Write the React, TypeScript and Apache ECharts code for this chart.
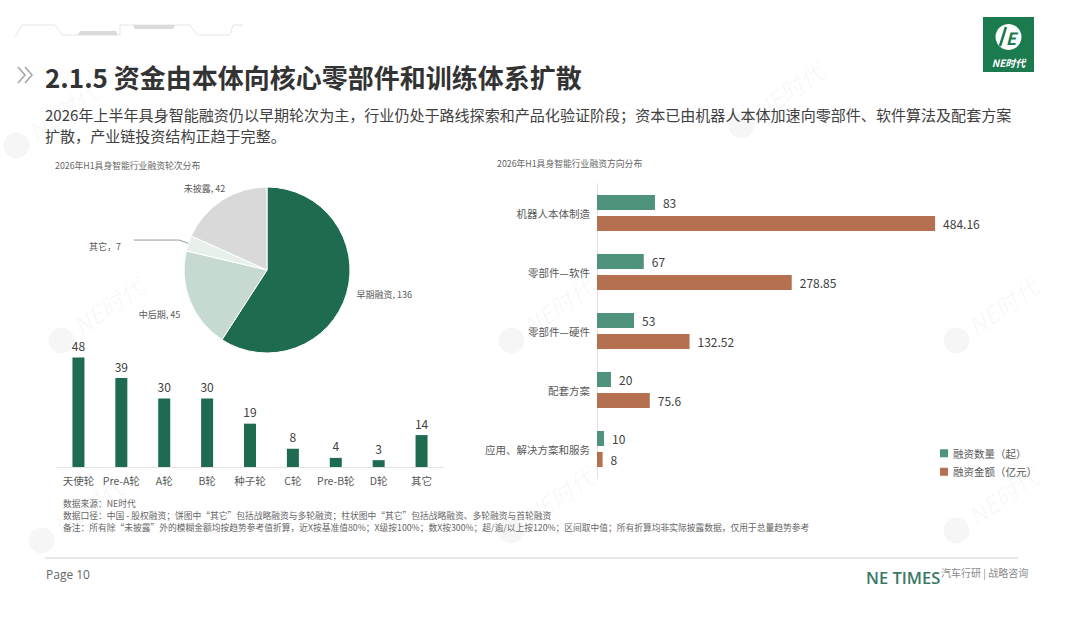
import React, { useEffect, useRef } from "react";
import * as echarts from "echarts";

const FONT = '"Noto Sans CJK SC", "Noto Sans", sans-serif';

const roundCats = ["天使轮", "Pre-A轮", "A轮", "B轮", "种子轮", "C轮", "Pre-B轮", "D轮", "其它"];
const roundCounts = [48, 39, 30, 30, 19, 8, 4, 3, 14];

const stageNames = ["早期融资", "中后期", "其它", "未披露"];
const stageValues = [136, 45, 7, 42];
const stageColors = ["#1e6b4f", "#c6dad1", "#e7f0eb", "#d9d9d9"];

const dirCats = ["机器人本体制造", "零部件—软件", "零部件—硬件", "配套方案", "应用、解决方案和服务"];
const dirCounts = [83, 67, 53, 20, 10];
const dirAmounts = [484.16, 278.85, 132.52, 75.6, 8];
const dirSeriesNames = ["融资数量（起）", "融资金额（亿元）"];

const titleText = "2.1.5 资金由本体向核心零部件和训练体系扩散";
const subLine1 =
  "2026年上半年具身智能融资仍以早期轮次为主，行业仍处于路线探索和产品化验证阶段；资本已由机器人本体加速向零部件、软件算法及配套方案";
const subLine2 = "扩散，产业链投资结构正趋于完整。";
const leftChartTitle = "2026年H1具身智能行业融资轮次分布";
const rightChartTitle = "2026年H1具身智能行业融资方向分布";
const notes = [
  "数据来源：NE时代",
  "数据口径：中国 - 股权融资；饼图中“其它”包括战略融资与多轮融资；柱状图中“其它”包括战略融资、多轮融资与首轮融资",
  "备注：所有除“未披露”外的模糊金额均按趋势参考值折算，近X按基准值80%；X级按100%；数X按300%；超/逾/以上按120%；区间取中值；所有折算均非实际披露数据，仅用于总量趋势参考",
];

function txt(x: number, y: number, text: string, size: number, fill: string, extra: any = {}) {
  return {
    type: "text",
    x,
    y,
    silent: true,
    style: {
      text,
      fontSize: size,
      fill,
      fontFamily: FONT,
      verticalAlign: "middle",
      align: "left",
      ...extra,
    },
  };
}

function watermark(x: number, y: number) {
  const c = "rgba(0,0,0,0.035)";
  return {
    type: "group",
    x,
    y,
    rotation: (35 * Math.PI) / 180,
    silent: true,
    z: -10,
    children: [
      { type: "circle", shape: { cx: -24, cy: 2, r: 13 }, style: { fill: c } },
      {
        type: "text",
        style: {
          x: -6,
          y: 0,
          text: "NE时代",
          fontSize: 24,
          fontStyle: "italic",
          fill: c,
          fontFamily: FONT,
          verticalAlign: "middle",
        },
      },
    ],
  };
}

function buildOption(): any {
  const graphics: any[] = [];
  [
    [80, 325],
    [530, 325],
    [975, 325],
    [60, 525],
    [530, 515],
    [975, 515],
    [760, 110],
    [35, 130],
  ].forEach(([x, y]) => graphics.push(watermark(x, y)));

  // top decoration
  graphics.push({
    type: "polyline",
    silent: true,
    shape: {
      points: [
        [15, 37], [22, 25], [55, 25], [62, 35], [77, 35], [120, 35], [120, 25],
        [190, 25], [197, 35], [230, 35], [233, 25], [243, 25],
      ],
    },
    style: { stroke: "#e6e6e6", lineWidth: 1, fill: null },
  });
  graphics.push({
    type: "polygon",
    silent: true,
    shape: { points: [[78, 35], [80, 31], [116, 31], [118, 35]] },
    style: { fill: "#dadada" },
  });
  graphics.push({
    type: "polygon",
    silent: true,
    shape: { points: [[133, 25], [175, 25], [173, 29], [135, 29]] },
    style: { fill: "#dadada" },
  });

  // chevrons
  graphics.push({
    type: "polyline",
    silent: true,
    shape: { points: [[18, 67], [25, 75], [18, 83]] },
    style: { stroke: "#a6a6a6", lineWidth: 1.6, fill: null },
  });
  graphics.push({
    type: "polyline",
    silent: true,
    shape: { points: [[25, 67], [32, 75], [25, 83]] },
    style: { stroke: "#a6a6a6", lineWidth: 1.6, fill: null },
  });

  // title & subtitle
  graphics.push(txt(45, 76, titleText, 26, "#333333", { fontWeight: "bold" }));
  graphics.push(txt(45, 114, subLine1, 15.05, "#404040"));
  graphics.push(txt(45, 135, subLine2, 15.05, "#404040"));

  // logo
  graphics.push({
    type: "rect",
    silent: true,
    shape: { x: 983, y: 17, width: 51, height: 55 },
    style: { fill: "#1b7a4e" },
  });
  graphics.push({
    type: "circle",
    silent: true,
    shape: { cx: 1008.5, cy: 37, r: 13 },
    style: { fill: "#ffffff" },
  });
  graphics.push({
    type: "polyline",
    silent: true,
    shape: { points: [[1000, 46], [1006, 27]] },
    style: { stroke: "#1b7a4e", lineWidth: 2.5, fill: null },
  });
  graphics.push({
    type: "text",
    silent: true,
    style: {
      x: 1011,
      y: 37,
      text: "E",
      fontSize: 17,
      fontWeight: "bold",
      fontStyle: "italic",
      fill: "#1b7a4e",
      fontFamily: FONT,
      align: "center",
      verticalAlign: "middle",
    },
  });
  graphics.push({
    type: "text",
    silent: true,
    style: {
      x: 1008.5,
      y: 62,
      text: "NE时代",
      fontSize: 10,
      fontWeight: "bold",
      fontStyle: "italic",
      fill: "#ffffff",
      fontFamily: FONT,
      align: "center",
      verticalAlign: "middle",
    },
  });

  // chart titles
  graphics.push(txt(55, 165, leftChartTitle, 8.8, "#666666"));
  graphics.push(txt(497, 163, rightChartTitle, 8.8, "#666666"));

  // notes
  notes.forEach((n, i) => graphics.push(txt(63, 503 + i * 12, n, 8.75, "#666666")));

  // footer
  graphics.push({
    type: "line",
    silent: true,
    shape: { x1: 45, y1: 558, x2: 1018, y2: 558 },
    style: { stroke: "#d0d0d0", lineWidth: 1 },
  });
  graphics.push(txt(46, 574, "Page 10", 12, "#666666", { fontFamily: '"Open Sans", "Noto Sans", sans-serif' }));
  graphics.push(
    txt(866, 577, "NE TIMES", 16.5, "#3a7a64", { fontWeight: 600, fontFamily: '"Open Sans", "Noto Sans", sans-serif' })
  );
  graphics.push(txt(941, 572, "汽车行研 | 战略咨询", 10, "#8a8a8a"));

  return {
    animation: false,
    backgroundColor: "#ffffff",
    textStyle: { fontFamily: FONT },
    legend: {
      data: dirSeriesNames,
      orient: "vertical",
      left: 935,
      top: 443,
      itemWidth: 8,
      itemHeight: 8,
      itemGap: 8,
      icon: "rect",
      textStyle: { fontSize: 10.5, color: "#595959", fontFamily: FONT },
    },
    grid: [
      { left: 57, top: 353, width: 386, height: 114, containLabel: false },
      { left: 597, top: 183.5, width: 419, height: 295, containLabel: false },
    ],
    xAxis: [
      {
        gridIndex: 0,
        type: "category",
        data: roundCats,
        axisLine: { lineStyle: { color: "#e3e3e3" } },
        axisTick: { show: false },
        axisLabel: { color: "#595959", fontSize: 10.5, margin: 8, interval: 0, fontFamily: FONT },
      },
      {
        gridIndex: 1,
        type: "value",
        min: 0,
        max: 600,
        show: false,
        splitLine: { show: false },
      },
    ],
    yAxis: [
      {
        gridIndex: 0,
        type: "value",
        min: 0,
        max: 50,
        show: false,
        splitLine: { show: false },
      },
      {
        gridIndex: 1,
        type: "category",
        inverse: true,
        data: dirCats,
        axisLine: { lineStyle: { color: "#e3e3e3" } },
        axisTick: { show: false },
        axisLabel: { color: "#595959", fontSize: 10.5, margin: 7, fontFamily: FONT },
      },
    ],
    series: [
      {
        type: "pie",
        center: [267, 270],
        radius: 83,
        startAngle: 90,
        clockwise: true,
        avoidLabelOverlap: false,
        itemStyle: { borderColor: "#ffffff", borderWidth: 1 },
        label: {
          show: true,
          position: "outside",
          fontSize: 9,
          color: "#595959",
          fontFamily: FONT,
          formatter: (p: any) => (p.name === "其它" ? `${p.name}，${p.value}` : `${p.name}, ${p.value}`),
        },
        labelLine: { show: false, length: 3, length2: 2 },
        labelLayout: (p: any) =>
          p.dataIndex === 1
            ? { dy: 12 }
            : p.dataIndex === 2
            ? { dx: -8, dy: 6 }
            : p.dataIndex === 3
            ? { dx: 12, dy: -9 }
            : {},
        emphasis: { disabled: true },
        data: stageNames.map((name, i) => ({
          name,
          value: stageValues[i],
          itemStyle: { color: stageColors[i] },
          labelLine:
            name === "其它"
              ? { show: true, length: 10, length2: 45, lineStyle: { color: "#808080", width: 0.8 } }
              : { show: false },
        })),
      },
      {
        type: "bar",
        xAxisIndex: 0,
        yAxisIndex: 0,
        data: roundCounts,
        barWidth: 12,
        itemStyle: { color: "#1e6b4f" },
        label: { show: true, position: "top", distance: 6, fontSize: 12, color: "#404040" },
        emphasis: { disabled: true },
      },
      {
        name: dirSeriesNames[0],
        type: "bar",
        xAxisIndex: 1,
        yAxisIndex: 1,
        data: dirCounts,
        barWidth: 15,
        barGap: "40%",
        itemStyle: { color: "#4f937c" },
        label: { show: true, position: "right", distance: 8, fontSize: 12, color: "#404040" },
        emphasis: { disabled: true },
      },
      {
        name: dirSeriesNames[1],
        type: "bar",
        xAxisIndex: 1,
        yAxisIndex: 1,
        data: dirAmounts,
        barWidth: 15,
        barGap: "40%",
        itemStyle: { color: "#b5704f" },
        label: { show: true, position: "right", distance: 8, fontSize: 12, color: "#404040" },
        emphasis: { disabled: true },
      },
    ],
    graphic: graphics,
  };
}

export default function App() {
  const ref = useRef<HTMLDivElement>(null);
  useEffect(() => {
    document.body.style.margin = "0";
    const chart = echarts.init(ref.current as HTMLDivElement, null, { renderer: "svg" });
    chart.setOption(buildOption());
    return () => {
      chart.dispose();
    };
  }, []);
  return <div ref={ref} style={{ width: 1080, height: 622, background: "#fff" }} />;
}
